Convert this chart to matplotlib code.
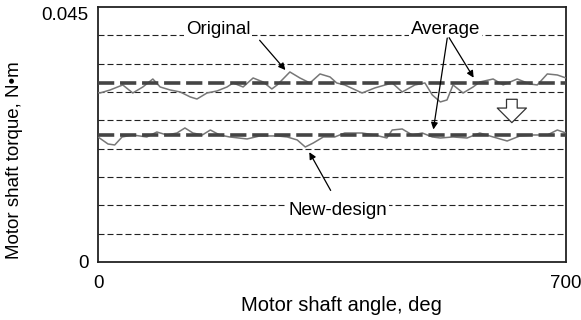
import matplotlib
matplotlib.use("Agg")
import matplotlib.pyplot as plt

plt.rcParams['font.family'] = ['Liberation Sans', 'DejaVu Sans']

# Data
orig_angle = [0, 3, 18, 37, 52, 67, 82, 93, 108, 123, 138, 148, 163, 178, 193, 202, 217, 232,
              247, 260, 268, 287, 302, 317, 332, 347, 357, 369, 395, 414, 440, 455, 474, 489,
              500, 512, 522, 531, 546, 561, 571, 591, 606, 627, 646, 657, 672, 687, 700]
orig_torque = [0.0299, 0.02982, 0.03035, 0.03124, 0.02982, 0.03088, 0.03229, 0.03088, 0.03035,
               0.03000, 0.02912, 0.02876, 0.02982, 0.03018, 0.03088, 0.03159, 0.03088, 0.03247,
               0.03176, 0.03053, 0.03124, 0.03353, 0.03247, 0.03159, 0.03318, 0.03265, 0.03159,
               0.03124, 0.02982, 0.03071, 0.03159, 0.03000, 0.03124, 0.03159, 0.02947, 0.02824,
               0.02859, 0.03124, 0.02982, 0.03088, 0.03176, 0.03229, 0.03124, 0.03229, 0.03141,
               0.03124, 0.03318, 0.03300, 0.03247]

new_angle = [0, 15, 25, 36, 52, 73, 88, 103, 118, 130, 142, 156, 168, 182, 197, 223, 242, 268,
             283, 298, 310, 322, 337, 354, 369, 395, 414, 432, 440, 455, 470, 485, 500, 512,
             531, 552, 571, 591, 612, 631, 651, 672, 687, 700]
new_torque = [0.02206, 0.02082, 0.02065, 0.02206, 0.02241, 0.02206, 0.02294, 0.02241, 0.02276,
              0.02365, 0.02276, 0.02241, 0.02329, 0.02241, 0.02206, 0.02171, 0.02224, 0.02224,
              0.02206, 0.02153, 0.02029, 0.02100, 0.02206, 0.02206, 0.02276, 0.02276, 0.02241,
              0.02188, 0.02329, 0.02347, 0.02241, 0.02276, 0.02206, 0.02188, 0.02206, 0.02188,
              0.02276, 0.02206, 0.02135, 0.02224, 0.02241, 0.02241, 0.02329, 0.02276]

orig_average = 0.0316
new_average = 0.0224
grid_levels = [0.005, 0.010, 0.015, 0.020, 0.025, 0.030, 0.035, 0.040]
x_ticks = [0, 700]
y_ticks = [0, 0.045]
y_tick_labels = ["0", "0.045"]

FS = 13.5

fig = plt.figure(figsize=(5.81, 3.20), dpi=100)
ax = fig.add_axes([0.1687, 0.18125, 0.8055, 0.797])

for g in grid_levels:
    ax.axhline(g, color='#222222', lw=0.8, ls=(0, (5.4, 2.7)), zorder=1)

ax.plot(orig_angle, orig_torque, color='#777777', lw=1.1, zorder=3)
ax.plot(new_angle, new_torque, color='#777777', lw=1.1, zorder=3)
ax.axhline(orig_average, color='#444444', lw=2.6, ls=(0, (4.5, 1.6)), zorder=4)
ax.axhline(new_average, color='#444444', lw=2.6, ls=(0, (4.5, 1.6)), zorder=4)

ax.set_xlim(0, 700)
ax.set_ylim(0, 0.045)
ax.set_xticks(x_ticks)
ax.set_xticklabels([str(v) for v in x_ticks])
ax.set_yticks(y_ticks)
ax.set_yticklabels(y_tick_labels)
ax.tick_params(length=0, labelsize=FS)
ax.tick_params(axis='x', pad=9)
ax.tick_params(axis='y', pad=7)
ax.get_yticklabels()[1].set_verticalalignment('top')
for s in ax.spines.values():
    s.set_linewidth(1.3)
    s.set_color('#222222')

ax.set_xlabel("Motor shaft angle, deg", fontsize=14.5)
ax.xaxis.set_label_coords(0.52, -0.135)
ax.set_ylabel("Motor shaft torque, N\u2022m", fontsize=FS)
ax.yaxis.set_label_coords(-0.16, 0.40)

bb = dict(boxstyle='square,pad=0.1', fc='white', ec='none')
ap = dict(arrowstyle='-|>', color='black', lw=0.9, mutation_scale=10)

ax.text(180, 0.0411, "Original", ha='center', va='center', fontsize=FS, bbox=bb, zorder=6)
ax.annotate('', xy=(283, 0.0335), xytext=(239, 0.0395), arrowprops=ap, zorder=6)

ax.text(520, 0.0411, "Average", ha='center', va='center', fontsize=FS, bbox=bb, zorder=6)
ax.annotate('', xy=(564, 0.0321), xytext=(523, 0.0400), arrowprops=ap, zorder=6)
ax.annotate('', xy=(501, 0.0229), xytext=(523, 0.0400), arrowprops=ap, zorder=6)

ax.text(359, 0.0090, "New-design", ha='center', va='center', fontsize=FS, bbox=bb, zorder=6)
ax.annotate('', xy=(314, 0.0198), xytext=(350, 0.0122), arrowprops=ap, zorder=6)

ax.annotate('', xy=(619, 0.0241), xytext=(619, 0.0292),
            arrowprops=dict(arrowstyle='simple,head_length=0.75,head_width=1.5,tail_width=0.55',
                            fc='white', ec='#333333', lw=0.9, mutation_scale=14), zorder=6)

fig.savefig("out.png", dpi=100)
